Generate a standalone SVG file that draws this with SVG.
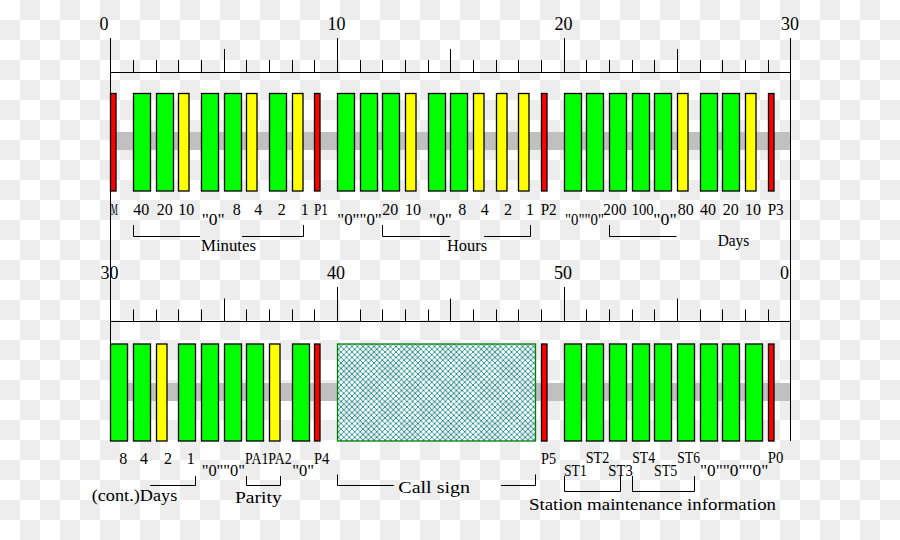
<svg xmlns="http://www.w3.org/2000/svg" width="900" height="540" viewBox="0 0 900 540">
<defs>
<pattern id="checker" patternUnits="userSpaceOnUse" width="40" height="40">
<rect width="40" height="40" fill="#ffffff"/>
<rect x="20" y="0" width="20" height="20" fill="#ededed"/>
<rect x="0" y="20" width="20" height="20" fill="#ededed"/>
</pattern>
<pattern id="hatch" patternUnits="userSpaceOnUse" width="5.5" height="5.5">
<path d="M0,0 L5.5,5.5 M5.5,0 L0,5.5" stroke="#008080" stroke-width="0.8" fill="none"/>
</pattern>
</defs>
<style>
.g{fill:#00ff00;stroke:#000;stroke-width:1.3}
.y{fill:#ffff00;stroke:#000;stroke-width:1.3}
.r{fill:#ff0000;stroke:#000;stroke-width:1.3}
.ln{stroke:#000;stroke-width:1;fill:none}
.band{fill:#c0c0c0}
text{font-family:"Liberation Serif","Times New Roman",serif;font-size:16px;fill:#000}
.ax{font-size:18px;text-anchor:middle}
</style>
<rect width="900" height="540" fill="url(#checker)"/>
<rect class="band" x="110.5" y="132" width="680" height="18"/>
<rect class="band" x="110.5" y="383" width="680" height="18"/>

<g id="axes">
<path class="ln" d="M110.5,38 V441 M790.5,38 V441 M110.5,72.5 H790.5 M110.5,321.5 H790.5"/>
<path class="ln" d="M133.5,60V72.5 M156.5,60V72.5 M178.5,60V72.5 M201.5,60V72.5 M224.5,49V72.5 M246.5,60V72.5 M269.5,60V72.5 M292.5,60V72.5 M314.5,60V72.5 M337.5,38V72.5 M360.5,60V72.5 M382.5,60V72.5 M405.5,60V72.5 M428.5,60V72.5 M450.5,49V72.5 M473.5,60V72.5 M496.5,60V72.5 M518.5,60V72.5 M541.5,60V72.5 M564.5,38V72.5 M586.5,60V72.5 M609.5,60V72.5 M632.5,60V72.5 M654.5,60V72.5 M677.5,49V72.5 M700.5,60V72.5 M722.5,60V72.5 M745.5,60V72.5 M768.5,60V72.5"/>
<path class="ln" d="M133.5,309.5V321.5 M156.5,309.5V321.5 M178.5,309.5V321.5 M201.5,309.5V321.5 M224.5,298.5V321.5 M246.5,309.5V321.5 M269.5,309.5V321.5 M292.5,309.5V321.5 M314.5,309.5V321.5 M337.5,287V321.5 M360.5,309.5V321.5 M382.5,309.5V321.5 M405.5,309.5V321.5 M428.5,309.5V321.5 M450.5,298.5V321.5 M473.5,309.5V321.5 M496.5,309.5V321.5 M518.5,309.5V321.5 M541.5,309.5V321.5 M564.5,287V321.5 M586.5,309.5V321.5 M609.5,309.5V321.5 M632.5,309.5V321.5 M654.5,309.5V321.5 M677.5,298.5V321.5 M700.5,309.5V321.5 M722.5,309.5V321.5 M745.5,309.5V321.5 M768.5,309.5V321.5"/>
<text class="ax" x="104" y="30">0</text>
<text class="ax" x="336.5" y="30">10</text>
<text class="ax" x="563.5" y="30">20</text>
<text class="ax" x="790" y="30">30</text>
<text class="ax" x="109.5" y="279">30</text>
<text class="ax" x="336" y="279">40</text>
<text class="ax" x="563" y="279">50</text>
<text class="ax" x="784.5" y="279">0</text>
</g>

<g id="bars-top">
<rect class="r" x="110.5" y="93.5" width="5.5" height="97.5"/>
<rect class="g" x="133.5" y="93.5" width="17" height="97.5"/>
<rect class="g" x="156.5" y="93.5" width="17" height="97.5"/>
<rect class="y" x="178.5" y="93.5" width="10.5" height="97.5"/>
<rect class="g" x="201.5" y="93.5" width="17" height="97.5"/>
<rect class="g" x="224.5" y="93.5" width="17" height="97.5"/>
<rect class="y" x="246.5" y="93.5" width="10.5" height="97.5"/>
<rect class="g" x="269.5" y="93.5" width="17" height="97.5"/>
<rect class="y" x="292.5" y="93.5" width="10.5" height="97.5"/>
<rect class="r" x="314.5" y="93.5" width="5.5" height="97.5"/>
<rect class="g" x="337.5" y="93.5" width="17" height="97.5"/>
<rect class="g" x="360.5" y="93.5" width="17" height="97.5"/>
<rect class="g" x="382.5" y="93.5" width="17" height="97.5"/>
<rect class="y" x="405.5" y="93.5" width="10.5" height="97.5"/>
<rect class="g" x="428.5" y="93.5" width="17" height="97.5"/>
<rect class="g" x="450.5" y="93.5" width="17" height="97.5"/>
<rect class="y" x="473.5" y="93.5" width="10.5" height="97.5"/>
<rect class="y" x="496.5" y="93.5" width="10.5" height="97.5"/>
<rect class="y" x="518.5" y="93.5" width="10.5" height="97.5"/>
<rect class="r" x="541.5" y="93.5" width="5.5" height="97.5"/>
<rect class="g" x="564.5" y="93.5" width="17" height="97.5"/>
<rect class="g" x="586.5" y="93.5" width="17" height="97.5"/>
<rect class="g" x="609.5" y="93.5" width="17" height="97.5"/>
<rect class="g" x="632.5" y="93.5" width="17" height="97.5"/>
<rect class="g" x="654.5" y="93.5" width="17" height="97.5"/>
<rect class="y" x="677.5" y="93.5" width="10.5" height="97.5"/>
<rect class="g" x="700.5" y="93.5" width="17" height="97.5"/>
<rect class="g" x="722.5" y="93.5" width="17" height="97.5"/>
<rect class="y" x="745.5" y="93.5" width="10.5" height="97.5"/>
<rect class="r" x="768.5" y="93.5" width="5.5" height="97.5"/>
</g>

<g id="bars-bottom">
<rect class="g" x="110.5" y="344" width="17" height="97"/>
<rect class="g" x="133.5" y="344" width="17" height="97"/>
<rect class="y" x="156.5" y="344" width="10.5" height="97"/>
<rect class="g" x="178.5" y="344" width="17" height="97"/>
<rect class="g" x="201.5" y="344" width="17" height="97"/>
<rect class="g" x="224.5" y="344" width="17" height="97"/>
<rect class="g" x="246.5" y="344" width="17" height="97"/>
<rect class="y" x="269.5" y="344" width="10.5" height="97"/>
<rect class="g" x="292.5" y="344" width="17" height="97"/>
<rect class="r" x="314.5" y="344" width="5.5" height="97"/>
<g id="callsign">
<rect x="337.5" y="344" width="198" height="97" fill="url(#checker)"/>
<rect x="337.5" y="344" width="198" height="97" fill="url(#hatch)" stroke="#008000" stroke-width="1.3"/>
</g>
<rect class="r" x="541.5" y="344" width="5.5" height="97"/>
<rect class="g" x="564.5" y="344" width="17" height="97"/>
<rect class="g" x="586.5" y="344" width="17" height="97"/>
<rect class="g" x="609.5" y="344" width="17" height="97"/>
<rect class="g" x="632.5" y="344" width="17" height="97"/>
<rect class="g" x="654.5" y="344" width="17" height="97"/>
<rect class="g" x="677.5" y="344" width="17" height="97"/>
<rect class="g" x="700.5" y="344" width="17" height="97"/>
<rect class="g" x="722.5" y="344" width="17" height="97"/>
<rect class="g" x="745.5" y="344" width="17" height="97"/>
<rect class="r" x="768.5" y="344" width="5.5" height="97"/>
</g>

<g id="labels-top">
<text x="110.7" y="215" textLength="7" lengthAdjust="spacingAndGlyphs">M</text>
<text x="133.3" y="215">40</text>
<text x="156.7" y="215">20</text>
<text x="178.3" y="215">10</text>
<text x="201.7" y="225" textLength="23" lengthAdjust="spacingAndGlyphs">"0"</text>
<text x="232.7" y="215">8</text>
<text x="254.3" y="215">4</text>
<text x="277.7" y="215">2</text>
<text x="300.7" y="215">1</text>
<text x="314" y="215" textLength="14" lengthAdjust="spacingAndGlyphs">P1</text>
<text x="337.3" y="225" textLength="44.4" lengthAdjust="spacingAndGlyphs">"0""0"</text>
<text x="382.3" y="215">20</text>
<text x="405" y="215">10</text>
<text x="429" y="225" textLength="23" lengthAdjust="spacingAndGlyphs">"0"</text>
<text x="458.3" y="215">8</text>
<text x="480.7" y="215">4</text>
<text x="504" y="215">2</text>
<text x="526" y="215">1</text>
<text x="540.7" y="215" textLength="16" lengthAdjust="spacingAndGlyphs">P2</text>
<text x="565" y="225" textLength="39" lengthAdjust="spacingAndGlyphs">"0""0"</text>
<text x="603.3" y="215" textLength="23" lengthAdjust="spacingAndGlyphs">200</text>
<text x="631.7" y="215" textLength="22" lengthAdjust="spacingAndGlyphs">100</text>
<text x="653.3" y="225" textLength="23.4" lengthAdjust="spacingAndGlyphs">"0"</text>
<text x="677.7" y="215">80</text>
<text x="700" y="215">40</text>
<text x="722.7" y="215">20</text>
<text x="745" y="215">10</text>
<text x="767.7" y="215" textLength="16" lengthAdjust="spacingAndGlyphs">P3</text>
<text x="201" y="251" textLength="55" lengthAdjust="spacingAndGlyphs">Minutes</text>
<text x="447" y="251" textLength="40" lengthAdjust="spacingAndGlyphs">Hours</text>
<text x="717.7" y="245.5" textLength="31.6" lengthAdjust="spacingAndGlyphs">Days</text>
</g>

<g id="labels-bottom">
<text x="119.3" y="463.5">8</text>
<text x="140" y="463.5">4</text>
<text x="164" y="463.5">2</text>
<text x="186.7" y="463.5">1</text>
<text x="201.7" y="475.5" textLength="43.3" lengthAdjust="spacingAndGlyphs">"0""0"</text>
<text x="245" y="463.5" textLength="46.7" lengthAdjust="spacingAndGlyphs">PA1PA2</text>
<text x="292.3" y="475.5" textLength="21.7" lengthAdjust="spacingAndGlyphs">"0"</text>
<text x="314" y="463.5" textLength="15.3" lengthAdjust="spacingAndGlyphs">P4</text>
<text x="541" y="463.5" textLength="15" lengthAdjust="spacingAndGlyphs">P5</text>
<text x="564" y="475.7" textLength="22.7" lengthAdjust="spacingAndGlyphs">ST1</text>
<text x="585.7" y="463" textLength="23.6" lengthAdjust="spacingAndGlyphs">ST2</text>
<text x="608.3" y="475.7" textLength="24.4" lengthAdjust="spacingAndGlyphs">ST3</text>
<text x="632.3" y="463" textLength="22.7" lengthAdjust="spacingAndGlyphs">ST4</text>
<text x="654" y="475.7" textLength="23.3" lengthAdjust="spacingAndGlyphs">ST5</text>
<text x="677.3" y="463" textLength="22.7" lengthAdjust="spacingAndGlyphs">ST6</text>
<text x="700" y="475.7" textLength="68.3" lengthAdjust="spacingAndGlyphs">"0""0""0"</text>
<text x="767.7" y="463" textLength="15.6" lengthAdjust="spacingAndGlyphs">P0</text>
<text x="91.7" y="501" textLength="85.6" lengthAdjust="spacingAndGlyphs">(cont.)Days</text>
<text x="235" y="503" textLength="46.7" lengthAdjust="spacingAndGlyphs">Parity</text>
<text x="398.3" y="493" textLength="71.7" lengthAdjust="spacingAndGlyphs">Call sign</text>
<text x="529" y="510" textLength="247" lengthAdjust="spacingAndGlyphs">Station maintenance information</text>
</g>

<g id="connectors">
<path class="ln" d="M133.5,225V236.5H200 M242,236.5H303.5V225"/>
<path class="ln" d="M382.5,225V236.5H450 M484,236.5H530.5V225"/>
<path class="ln" d="M609.5,225V236.5H676.5"/>
<path class="ln" d="M150,485.5H195.5V476"/>
<path class="ln" d="M246.5,476V485.5H280.5V476"/>
<path class="ln" d="M337.5,474.5V485.5H394 M501,485.5H535.5V474.5"/>
<path class="ln" d="M564.5,476V491.5H620.5V476"/>
<path class="ln" d="M632.5,476V491.5H694.5V476"/>
</g>
</svg>
